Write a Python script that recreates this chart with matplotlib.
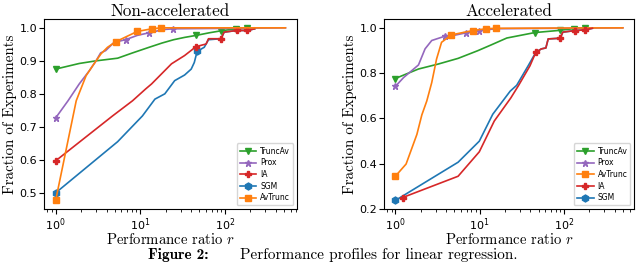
import matplotlib
matplotlib.use('Agg')
import matplotlib.pyplot as plt

plt.rcParams['mathtext.fontset'] = 'cm'

# ---- Non-accelerated panel data (performance ratio r, fraction) ----
na_trunc_r = [1, 1.9, 3.0, 5.4, 8.1, 12.7, 18.1, 24.8, 33.4, 45.6, 65.5, 90, 134, 181, 220]
na_trunc_y = [0.875, 0.892, 0.900, 0.908, 0.924, 0.941, 0.954, 0.964, 0.971, 0.977, 0.985, 0.991, 0.997, 0.999, 1.0]
na_trunc_mk = [0, 9, 11, 12, 13]

na_prox_r = [1, 1.4, 1.9, 2.5, 3.0, 3.4, 3.9, 4.9, 6.7, 9.2, 12.7, 19, 24.6, 520]
na_prox_y = [0.727, 0.779, 0.830, 0.870, 0.900, 0.924, 0.931, 0.956, 0.964, 0.977, 0.985, 0.995, 0.997, 1.0]
na_prox_mk = [0, 8, 10, 12]

na_ia_r = [1, 4.7, 8.1, 11.6, 13.6, 23.4, 33.4, 45.6, 60, 64, 90, 98, 139, 185, 225]
na_ia_y = [0.597, 0.733, 0.779, 0.815, 0.830, 0.891, 0.916, 0.943, 0.951, 0.967, 0.967, 0.987, 0.992, 0.992, 0.997]
na_ia_mk = [0, 7, 10, 12, 13]

na_sgm_r = [1, 5.4, 10.6, 14.9, 19.5, 25.5, 33.4, 40, 43.5, 47, 57, 64, 90, 98, 139, 185, 225]
na_sgm_y = [0.50, 0.655, 0.733, 0.784, 0.800, 0.840, 0.857, 0.875, 0.895, 0.929, 0.941, 0.964, 0.967, 0.987, 0.992, 0.992, 0.997]
na_sgm_mk = [0, 9]

na_av_r = [1, 1.75, 1.91, 2.29, 2.74, 3.43, 4.1, 5.14, 9.2, 13.6, 17.8, 520]
na_av_y = [0.477, 0.779, 0.804, 0.855, 0.885, 0.921, 0.941, 0.958, 0.989, 0.997, 1.0, 1.0]
na_av_mk = [0, 7, 8, 9, 10]

# ---- Accelerated panel data ----
ac_trunc_r = [1, 1.25, 1.88, 3.23, 5.55, 9.5, 13.6, 21, 45, 90, 133, 178, 215]
ac_trunc_y = [0.776, 0.791, 0.818, 0.840, 0.865, 0.899, 0.924, 0.955, 0.979, 0.989, 0.997, 1.0, 1.0]
ac_trunc_mk = [0, 8, 9, 10, 11]

ac_prox_r = [1, 1.25, 1.88, 2.25, 2.7, 3.86, 4.85, 6.9, 9.9, 15.6, 500]
ac_prox_y = [0.741, 0.780, 0.836, 0.907, 0.944, 0.963, 0.966, 0.978, 0.988, 0.996, 1.0]
ac_prox_mk = [0, 5, 7, 8]

ac_av_r = [1, 1.34, 1.8, 2.06, 2.36, 2.7, 3.08, 3.53, 4.63, 8.3, 11.9, 15.6, 500]
ac_av_y = [0.344, 0.398, 0.529, 0.615, 0.677, 0.758, 0.862, 0.936, 0.969, 0.988, 0.996, 0.998, 1.0]
ac_av_mk = [0, 8, 9, 10, 11]

ac_ia_r = [1.22, 5.55, 9.9, 14.9, 23.4, 28.8, 39.5, 46.4, 54, 61, 65, 90, 97, 136, 178, 218]
ac_ia_y = [0.25, 0.344, 0.452, 0.588, 0.690, 0.744, 0.832, 0.892, 0.907, 0.911, 0.951, 0.954, 0.981, 0.988, 0.991, 0.998]
ac_ia_mk = [0, 7, 11, 13, 14]

ac_sgm_r = [1, 5.55, 9.9, 14.3, 23, 27.5, 38, 46.4, 54, 61, 65, 90, 97, 136, 178, 218]
ac_sgm_y = [0.237, 0.406, 0.499, 0.618, 0.720, 0.746, 0.835, 0.892, 0.907, 0.911, 0.951, 0.954, 0.981, 0.988, 0.991, 0.998]
ac_sgm_mk = [0]

colors = {'TruncAv': 'tab:green', 'Prox': 'tab:purple', 'IA': 'tab:red',
          'SGM': 'tab:blue', 'AvTrunc': 'tab:orange'}
markers = {'TruncAv': 'v', 'Prox': '*', 'IA': 'P', 'SGM': 'h', 'AvTrunc': 's'}

left_series = [
    ('TruncAv', na_trunc_r, na_trunc_y, na_trunc_mk),
    ('Prox', na_prox_r, na_prox_y, na_prox_mk),
    ('IA', na_ia_r, na_ia_y, na_ia_mk),
    ('SGM', na_sgm_r, na_sgm_y, na_sgm_mk),
    ('AvTrunc', na_av_r, na_av_y, na_av_mk),
]
right_series = [
    ('TruncAv', ac_trunc_r, ac_trunc_y, ac_trunc_mk),
    ('Prox', ac_prox_r, ac_prox_y, ac_prox_mk),
    ('AvTrunc', ac_av_r, ac_av_y, ac_av_mk),
    ('IA', ac_ia_r, ac_ia_y, ac_ia_mk),
    ('SGM', ac_sgm_r, ac_sgm_y, ac_sgm_mk),
]

fig = plt.figure(figsize=(6.4, 2.63), dpi=100)
ax1 = fig.add_axes([0.069, 0.205, 0.395, 0.722])
ax2 = fig.add_axes([0.600, 0.205, 0.391, 0.722])

# SGM drawn under IA where they coincide
for ax, series, title in [(ax1, left_series, 'Non-accelerated'),
                          (ax2, right_series, 'Accelerated')]:
    for name, r, y, mk in series:
        z = 3 if name == 'SGM' else 4
        ax.plot(r, y, color=colors[name], marker=markers[name], markevery=mk,
                markersize=5, linewidth=1.2, label=name, zorder=z)
    ax.set_xscale('log')
    ax.set_title(title, fontfamily='cmr10', fontsize=12.3, pad=2)
    ax.set_xlabel('Performance ratio $r$', fontfamily='cmr10', fontsize=10.6, labelpad=-0.5)
    ax.set_ylabel('Fraction of Experiments', fontfamily='cmr10', fontsize=10.8, labelpad=2)
    ax.tick_params(labelsize=8, pad=1.5)
    ax.legend(loc='lower right', fontsize=5.5, handlelength=2.2, labelspacing=0.35,
              borderpad=0.4, handletextpad=0.5)

ax1.set_yticks([0.5, 0.6, 0.7, 0.8, 0.9, 1.0])
ax2.set_yticks([0.2, 0.4, 0.6, 0.8, 1.0])

fig.text(0.231, 0.014, 'Figure 2:', fontfamily='cmb10', fontsize=11)
fig.text(0.375, 0.014, 'Performance profiles for linear regression.', fontfamily='cmr10', fontsize=11)

fig.savefig('out.png', dpi=100)
